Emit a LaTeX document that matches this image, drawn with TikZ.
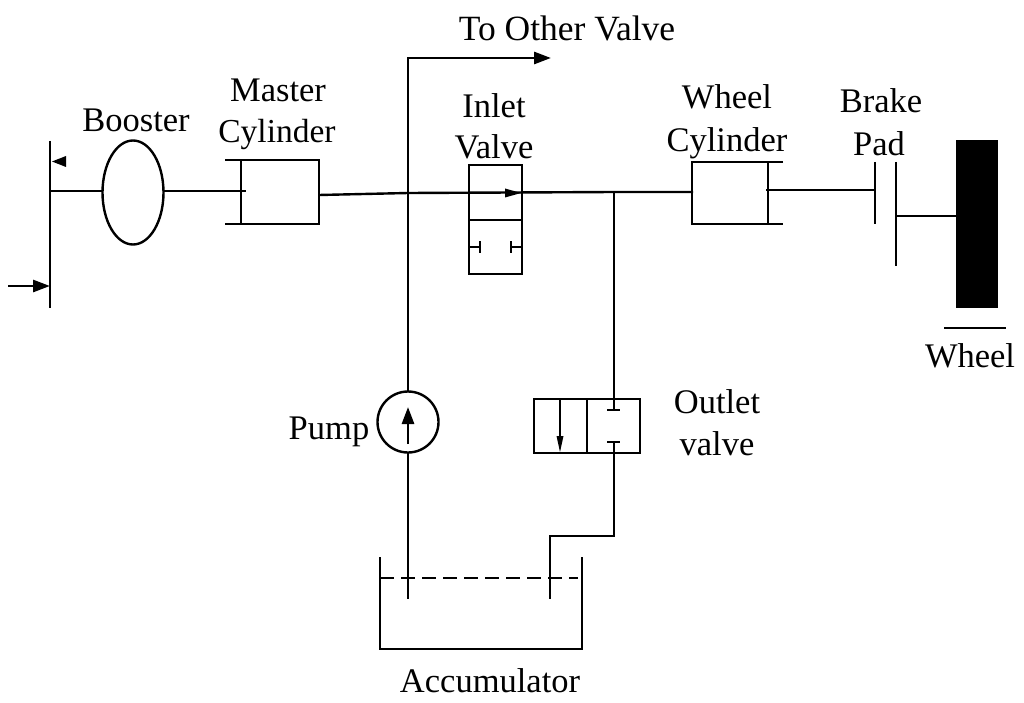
\documentclass[tikz,border=0pt]{standalone}
\usepackage{fontspec}
\setmainfont{Liberation Serif}
\usetikzlibrary{arrows.meta,shapes.geometric}
\tikzset{
  line/.style={line width=2.8pt},
  thin line/.style={line width=2.4pt},
  lbl/.style={anchor=base,inner sep=0pt,font=\fontsize{34.5}{38}\selectfont},
  tip/.style={-{Triangle[length=#1,width=12pt]}},
  tip/.default=17pt
}
\begin{document}
\begin{tikzpicture}[x=1pt,y=-1pt,line cap=butt]
\useasboundingbox (0,0) rectangle (1024,703);

% pedal
\coordinate (pedalT) at (50,141);
\coordinate (pedalB) at (50,308);
\coordinate (pedalM) at (50,191);
\coordinate (pedalF) at (50,286);
\coordinate (force) at (8,286);
\draw[line] (pedalT) -- (pedalB);
\fill (52,161.5) -- (66,156) -- (66,167) -- cycle;
\draw[line,tip] (force) -- (pedalF);

% booster
\node[ellipse,draw,thin line,outer sep=0pt,minimum width=61pt,minimum height=104pt,inner sep=0pt] (booster) at (133,192.5) {};
\draw[line] (pedalM) -- (booster.west |- pedalM);
\coordinate (mcRod) at (246,191);
\draw[line] (booster.east |- mcRod) -- (mcRod);

% master cylinder
\draw[line] (225,160) -- (319,160) -- (319,224) -- (225,224);
\draw[line] (241,160) -- (241,224);

% main pipe
\coordinate (mcOut) at (319,195);
\coordinate (crossA) at (408,193);
\coordinate (teeA) at (614,192);
\coordinate (wcIn) at (693,192);
\draw[thin line] (mcOut) -- (crossA) -- (teeA) -- (wcIn);

% inlet valve
\draw[line] (469,165) rectangle (522,274);
\draw[line] (469,220) -- (522,220);
\draw[line] (469,247) -- (480,247) (480,241) -- (480,253);
\draw[line] (522,247) -- (511,247) (511,241) -- (511,253);
\fill (521,193) -- (505,188.5) -- (505,197.5) -- cycle;

% pump line
\node[circle,draw,thin line,outer sep=0pt,minimum size=61pt,inner sep=0pt] (pump) at (408,422) {};
\coordinate (pumpTop) at (408,58);
\coordinate (other) at (551,58);
\coordinate (pumpIn) at (408,599);
\draw[line,tip] (pump.north) -- (pumpTop) -- (other);
\draw[line] (pump.south) -- (pumpIn);
\coordinate (pumpA) at (408,444);
\coordinate (pumpB) at (408,407);
\draw[line,tip] (pumpA) -- (pumpB);

% outlet valve
\draw[line] (534,399) rectangle (640,453);
\draw[line] (587,399) -- (587,453);
\coordinate (ovA) at (560,399);
\coordinate (ovB) at (560,452);
\draw[line] (ovA) -- (560,440);
\fill (ovB) -- (556.5,436) -- (563.5,436) -- cycle;
\coordinate (ovTop) at (614,410);
\coordinate (ovBot) at (614,442);
\draw[line] (teeA) -- (ovTop);
\draw[line] (607,410) -- (620,410);
\draw[line] (607,442) -- (620,442);
\coordinate (retA) at (614,536);
\coordinate (retB) at (550,536);
\coordinate (retC) at (550,599);
\draw[line] (ovBot) -- (retA) -- (retB) -- (retC);

% accumulator
\draw[line] (380,557) -- (380,649) -- (582,649) -- (582,557);
\draw[line,dash pattern=on 14pt off 7pt] (380,578) -- (578,578);

% wheel cylinder
\draw[line] (783,162) -- (692,162) -- (692,224) -- (783,224);
\draw[line] (768,162) -- (768,224);

% brake pads and wheel
\coordinate (wcRod) at (766,190);
\coordinate (padA) at (875,190);
\draw[line] (wcRod) -- (padA);
\draw[line] (875,162) -- (875,224);
\draw[line] (896,162) -- (896,266);
\coordinate (padB) at (896,216);
\coordinate (wheelIn) at (956,216);
\draw[line] (padB) -- (wheelIn);
\fill (956,140) rectangle (998,308);
\draw[line] (944,328) -- (1006,328);

% labels
\node[lbl,font=\fontsize{35.5}{38}\selectfont] (tOther) at (567,41) {To Other Valve};
\node[lbl] (tBooster) at (136,132) {Booster};
\node[lbl] (tMaster) at (278,102) {Master};
\node[lbl,font=\fontsize{33.5}{38}\selectfont] (tMCyl) at (277,143) {Cylinder};
\node[lbl] (tInlet) at (494,118) {Inlet};
\node[lbl] (tValve) at (494,159) {Valve};
\node[lbl] (tWheelC) at (727,109) {Wheel};
\node[lbl] (tWCyl) at (727,152) {Cylinder};
\node[lbl] (tBrake) at (881,113) {Brake};
\node[lbl] (tPad) at (879,156) {Pad};
\node[lbl] (tWheel) at (970,367) {Wheel};
\node[lbl] (tPump) at (329,439) {Pump};
\node[lbl] (tOutlet) at (717,413) {Outlet};
\node[lbl] (tOvalve) at (717,455) {valve};
\node[lbl] (tAcc) at (490,692) {Accumulator};
\end{tikzpicture}
\end{document}
